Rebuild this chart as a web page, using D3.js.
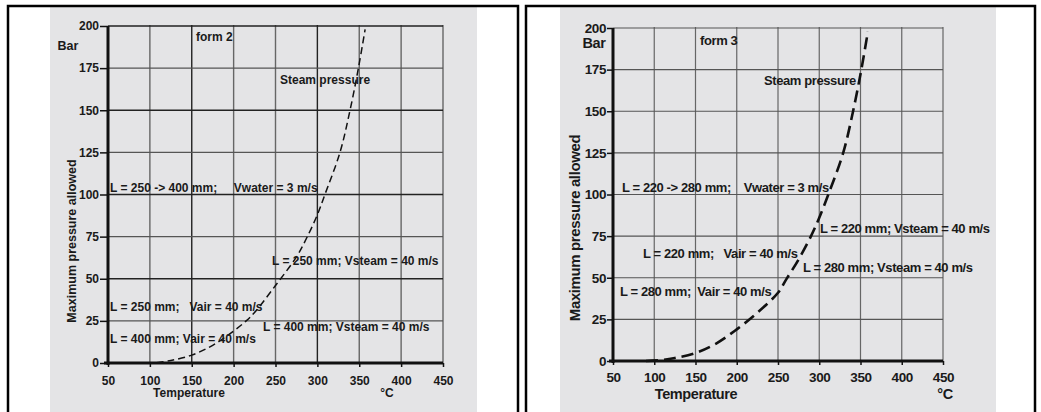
<!DOCTYPE html>
<html>
<head>
<meta charset="utf-8">
<script src="https://cdn.jsdelivr.net/npm/d3@7"></script>
<style>
  body { margin: 0; background: #fff; }
  svg { display: block; font-family: "Liberation Sans", Arial, Helvetica, sans-serif; font-weight: bold; }
</style>
</head>
<body>
<script>
// axis ticks
var tempTicks = [50, 100, 150, 200, 250, 300, 350, 400, 450];
var pressureTicks = [0, 25, 50, 75, 100, 125, 150, 175, 200];

// steam pressure curve, form 2
var steamTemp2 = [108, 125, 150, 175, 200, 215, 225, 250, 275, 288, 300, 309, 327, 339, 349, 357];
var steamPress2 = [0.2, 1.5, 4.7, 10.5, 19, 25, 30, 46, 63, 75, 88, 100, 125, 150, 175, 198];

// steam pressure curve, form 3
var steamTemp3 = [90, 110, 125, 150, 175, 200, 225, 250, 260, 275, 290, 300, 311, 329, 341, 351, 359];
var steamPress3 = [0, 0.6, 1.8, 4.8, 10.5, 19, 29, 41, 49, 61, 75, 86, 100, 125, 150, 175, 198];

// annotation texts
var notes2 = [
    "L = 250 -> 400 mm;     Vwater = 3 m/s",
    "L = 250 mm; Vsteam = 40 m/s",
    "L = 250 mm;   Vair = 40 m/s",
    "L = 400 mm; Vsteam = 40 m/s",
    "L = 400 mm; Vair = 40 m/s"
];
var notes3 = [
    "L = 220 -> 280 mm;    Vwater = 3 m/s",
    "L = 220 mm; Vsteam = 40 m/s",
    "L = 220 mm;   Vair = 40 m/s",
    "L = 280 mm; Vsteam = 40 m/s",
    "L = 280 mm;  Vair = 40 m/s"
];

var svg = d3.select("body").append("svg")
    .attr("width", 1041)
    .attr("height", 412);

/**
 * Draw one framed panel with grid, axes, curve and notes
 * @param cfg layout of the panel
 */
function drawPanel(cfg) {
    var g = svg.append("g");

    g.append("rect")
        .attr("x", cfg.grayX0).attr("y", 7)
        .attr("width", cfg.grayX1 - cfg.grayX0).attr("height", 410)
        .attr("fill", "#e4e4e6");
    g.append("rect")
        .attr("x", cfg.frameX0).attr("y", 6)
        .attr("width", cfg.frameX1 - cfg.frameX0).attr("height", 420)
        .attr("fill", "none").attr("stroke", "#000").attr("stroke-width", 2.5);

    var x = d3.scaleLinear().domain([50, 450]).range([cfg.x0, cfg.x1]);
    var y = d3.scaleLinear().domain([0, 200]).range([cfg.y0, cfg.y1]);

    // grid
    g.selectAll(".vgrid").data(tempTicks.slice(1)).enter().append("line")
        .attr("x1", function (d) { return x(d); }).attr("x2", function (d) { return x(d); })
        .attr("y1", y(0)).attr("y2", y(200) - 1)
        .attr("stroke", function (d) { return cfg.vDark.indexOf(d) >= 0 ? "#222" : "#666"; })
        .attr("stroke-width", cfg.gridWidth);
    g.selectAll(".hgrid").data(pressureTicks.slice(1)).enter().append("line")
        .attr("x1", x(50)).attr("x2", x(450))
        .attr("y1", function (d) { return y(d); }).attr("y2", function (d) { return y(d); })
        .attr("stroke", function (d) { return cfg.hDark.indexOf(d) >= 0 ? "#222" : "#555"; })
        .attr("stroke-width", cfg.gridWidth);

    // axes ticks and labels
    var yAxis = g.append("g")
        .attr("transform", "translate(" + x(50) + ",0)")
        .call(d3.axisLeft(y).tickValues(pressureTicks).tickSize(cfg.yTick).tickPadding(1));
    var xAxis = g.append("g")
        .attr("transform", "translate(0," + y(0) + ")")
        .call(d3.axisBottom(x).tickValues(tempTicks).tickSize(4).tickPadding(cfg.xPad));
    [yAxis, xAxis].forEach(function (a) {
        a.select(".domain").remove();
        a.selectAll("line").attr("stroke", "#111").attr("stroke-width", 1.5);
        a.selectAll("text")
            .attr("fill", "#1a1a1a")
            .style("font-family", "'Liberation Sans', Arial, sans-serif")
            .style("font-weight", "bold")
            .style("font-size", cfg.tickFont + "px")
            .style("letter-spacing", cfg.spacing + "px");
    });

    // thick axis lines
    g.append("line")
        .attr("x1", x(50)).attr("x2", x(50))
        .attr("y1", y(200)).attr("y2", y(0) + 2)
        .attr("stroke", "#111").attr("stroke-width", 3);
    g.append("line")
        .attr("x1", x(50) - 4).attr("x2", x(450))
        .attr("y1", y(0)).attr("y2", y(0))
        .attr("stroke", "#111").attr("stroke-width", 3);

    // steam pressure curve
    var pts = cfg.temps.map(function (t, i) { return [t, cfg.press[i]]; });
    var line = d3.line()
        .x(function (d) { return x(d[0]); })
        .y(function (d) { return y(d[1]); })
        .curve(d3.curveCatmullRom);
    g.append("path")
        .datum(pts)
        .attr("d", line)
        .attr("fill", "none")
        .attr("stroke", "#111")
        .attr("stroke-width", cfg.dashWidth)
        .attr("stroke-dasharray", cfg.dash);

    function label(txt, tx, py, size, anchor) {
        return g.append("text")
            .attr("x", tx).attr("y", py)
            .attr("dy", "0.35em")
            .attr("text-anchor", anchor || "start")
            .attr("fill", "#1a1a1a")
            .style("font-size", size + "px")
            .style("letter-spacing", cfg.spacing + "px")
            .style("white-space", "pre")
            .text(txt);
    }

    cfg.notes.forEach(function (txt, i) {
        label(txt, x(cfg.notePos[i][0]), y(cfg.notePos[i][1]), cfg.noteFont);
    });
    label(cfg.form, x(cfg.formPos[0]), y(cfg.formPos[1]), cfg.noteFont);
    label("Steam pressure", x(cfg.steamPos[0]), y(cfg.steamPos[1]), cfg.noteFont);

    label("Bar", cfg.barX, cfg.barY, cfg.barFont, "middle");
    label("Temperature", cfg.tempX, cfg.titleY, cfg.titleFont, "middle");
    label("°C", cfg.degX, cfg.titleY, cfg.titleFont, "middle");

    g.append("text")
        .attr("transform", "translate(" + cfg.yTitleX + "," + cfg.yTitleY + ") rotate(-90)")
        .attr("text-anchor", "middle")
        .attr("dy", "0.35em")
        .attr("fill", "#1a1a1a")
        .style("font-size", cfg.yTitleFont + "px")
        .style("letter-spacing", cfg.spacing + "px")
        .text("Maximum pressure allowed");
}

drawPanel({
    frameX0: 8, frameX1: 518, grayX0: 50, grayX1: 477,
    x0: 108, x1: 443, y0: 363, y1: 26,
    gridWidth: 1.4, vDark: [150, 300], hDark: [200, 150, 100, 50],
    yTick: 8, xPad: 9, tickFont: 12, spacing: 0,
    temps: steamTemp2, press: steamPress2,
    dashWidth: 1.5, dash: "7,4",
    notes: notes2,
    notePos: [[52.4, 104], [245.8, 60.5], [52.4, 33.2], [235, 21.4], [52.4, 14.2]],
    noteFont: 12,
    form: "form 2", formPos: [155, 193.5], steamPos: [255.4, 168],
    barX: 68, barY: 46, barFont: 12.5,
    tempX: 189, degX: 387, titleY: 393, titleFont: 12,
    yTitleX: 72, yTitleY: 241, yTitleFont: 12.5
});

drawPanel({
    frameX0: 526, frameX1: 1035, grayX0: 560, grayX1: 996,
    x0: 613, x1: 943, y0: 361, y1: 28,
    gridWidth: 1.2, vDark: [], hDark: [],
    yTick: 6, xPad: 7, tickFont: 13.5, spacing: -0.4,
    temps: steamTemp3, press: steamPress3,
    dashWidth: 2.6, dash: "12,6",
    notes: notes3,
    notePos: [[60.9, 104.5], [300.9, 79.9], [86.4, 64.3], [280.3, 55.9], [58.5, 42]],
    noteFont: 13,
    form: "form 3", formPos: [155.5, 192.8], steamPos: [233, 168.6],
    barX: 594, barY: 43, barFont: 14.5,
    tempX: 696, degX: 945, titleY: 394, titleFont: 14.5,
    yTitleX: 575, yTitleY: 228, yTitleFont: 15
});
</script>
</body>
</html>
